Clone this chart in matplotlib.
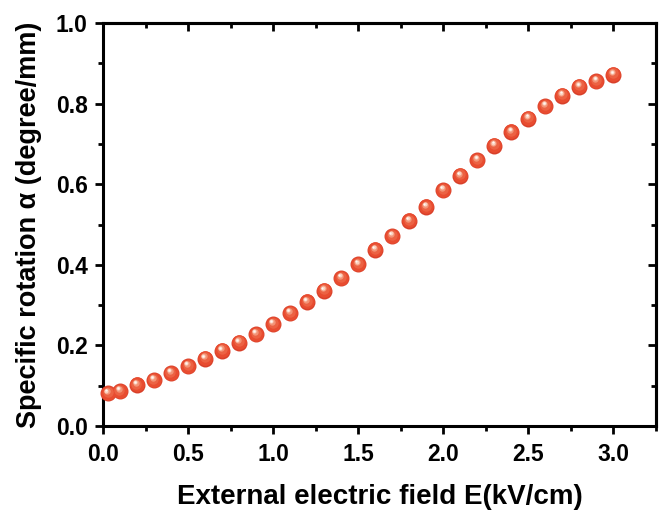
import numpy as np
import matplotlib
matplotlib.use("Agg")
import matplotlib.pyplot as plt
from matplotlib.transforms import offset_copy
from matplotlib.ticker import MultipleLocator, FormatStrFormatter

# ===============================
# DATA
# ===============================
field = [0.03, 0.1, 0.2, 0.3, 0.4, 0.5, 0.6, 0.7, 0.8, 0.9, 1.0,
         1.1, 1.2, 1.3, 1.4, 1.5, 1.6, 1.7, 1.8, 1.9, 2.0,
         2.1, 2.2, 2.3, 2.4, 2.5, 2.6, 2.7, 2.8, 2.9, 3.0]
rotation = [0.081, 0.087, 0.102, 0.114, 0.131, 0.149, 0.167, 0.187, 0.207, 0.228, 0.253,
            0.280, 0.308, 0.336, 0.367, 0.401, 0.437, 0.471, 0.509, 0.544, 0.585,
            0.621, 0.660, 0.696, 0.730, 0.763, 0.794, 0.820, 0.842, 0.856, 0.872]

xlabel = "External electric field E(kV/cm)"
ylabel = "Specific rotation \u03b1 (degree/mm)"

plt.rcParams["font.family"] = ["Liberation Sans", "DejaVu Sans"]
plt.rcParams["font.weight"] = "bold"

fig = plt.figure(figsize=(6.61, 5.11), dpi=100)
ax = fig.add_axes([0.1558, 0.1663, 0.8366, 0.7887])

# ===============================
# SHADED "BALL" MARKERS
# ===============================
layers = [
    (0.0, 0.0, 11.5, "#d8402a"),
    (0.0, 0.3, 10.6, "#e84c30"),
    (-0.4, 0.9, 7.5, "#ec6243"),
    (-0.9, 1.6, 4.6, "#f39477"),
    (-1.2, 2.0, 3.0, "#fbd0bd"),
    (-1.3, 2.2, 1.6, "#fff8f2"),
]
for dx, dy, ms, col in layers:
    tr = offset_copy(ax.transData, fig=fig, x=dx, y=dy, units="points")
    ax.plot(field, rotation, "o", ms=ms, color=col, mec="none",
            transform=tr, zorder=3, clip_on=False)

ax.set_xlim(0, 3.25)
ax.set_ylim(0, 1.0)
ax.xaxis.set_major_locator(MultipleLocator(0.5))
ax.xaxis.set_minor_locator(MultipleLocator(0.25))
ax.yaxis.set_major_locator(MultipleLocator(0.2))
ax.yaxis.set_minor_locator(MultipleLocator(0.1))
ax.xaxis.set_major_formatter(FormatStrFormatter("%.1f"))
ax.yaxis.set_major_formatter(FormatStrFormatter("%.1f"))

for s in ax.spines.values():
    s.set_linewidth(2.2)

ax.tick_params(which="major", direction="out", length=6, width=2, labelsize=16.5)
ax.tick_params(axis="x", which="major", pad=6)
ax.tick_params(axis="y", which="major", pad=5)
ax.tick_params(which="minor", direction="out", length=3.5, width=2)

# mirrored ticks pointing inward on top / right
top = ax.secondary_xaxis("top")
top.xaxis.set_major_locator(MultipleLocator(0.5))
top.xaxis.set_minor_locator(MultipleLocator(0.25))
top.tick_params(which="major", direction="in", length=6, width=2, labeltop=False)
top.tick_params(which="minor", direction="in", length=3.5, width=2)
top.spines["top"].set_linewidth(2.2)
right = ax.secondary_yaxis("right")
right.yaxis.set_major_locator(MultipleLocator(0.2))
right.yaxis.set_minor_locator(MultipleLocator(0.1))
right.tick_params(which="major", direction="in", length=6, width=2, labelright=False)
right.tick_params(which="minor", direction="in", length=3.5, width=2)
right.spines["right"].set_linewidth(2.2)

ax.set_xlabel(xlabel, fontsize=20, fontweight="bold", labelpad=13)
ax.set_ylabel(ylabel, fontsize=19.5, fontweight="bold", labelpad=10)

fig.savefig("out.png", dpi=100)
